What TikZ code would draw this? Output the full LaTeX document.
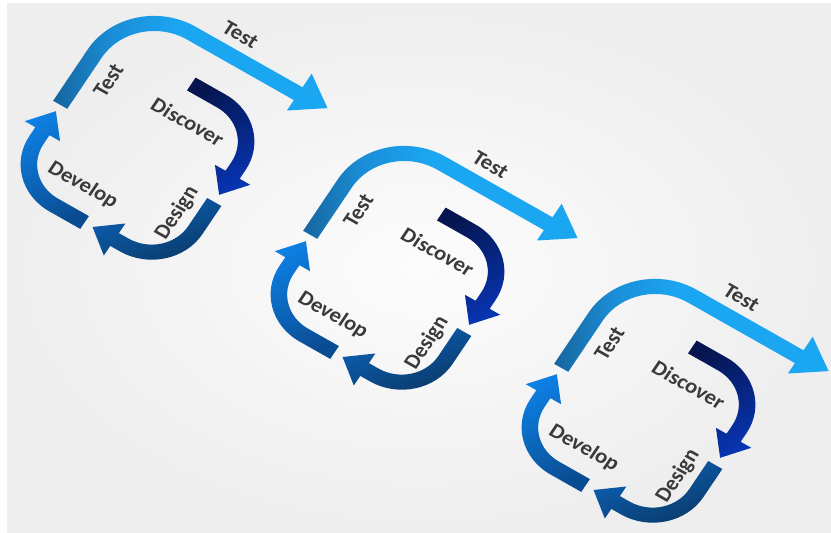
\documentclass[tikz,border=0pt]{standalone}
\usepackage{fontspec}
\setmainfont{Carlito}
\definecolor{tA}{HTML}{17659E}
\definecolor{tB}{HTML}{1A8ED8}
\definecolor{tC}{HTML}{1BA6F2}
\definecolor{dA}{HTML}{06154F}
\definecolor{dB}{HTML}{0735B3}
\definecolor{gA}{HTML}{0A3763}
\definecolor{gB}{HTML}{0C62B8}
\definecolor{vA}{HTML}{0A4C92}
\definecolor{vB}{HTML}{0D80E4}
\definecolor{txt}{HTML}{3A3A3A}
\definecolor{bgIn}{HTML}{FCFCFC}
\definecolor{bgOut}{HTML}{EEEEEE}
\pgfdeclarehorizontalshading{testsh}{100bp}{color(0bp)=(tA); color(25bp)=(tA); color(36bp)=(tB); color(48bp)=(tC); color(100bp)=(tC)}
\begin{document}
\begin{tikzpicture}[x=1pt,y=1pt,
  lbl/.style={font=\fontsize{22}{22}\selectfont\bfseries, text=txt, transform shape, inner sep=0pt}]
\useasboundingbox (0,0) rectangle (831,533);
\fill[white] (0,0) rectangle (831,533);
\shade[inner color=bgIn, outer color=bgOut] (7,0) rectangle (831,529);
\foreach \k/\cx/\cy in {1/137.5/380, 2/387.5/250, 3/638.5/117} {
\begin{scope}[cm={0.883,-0.5,0.539,0.8,(\cx,\cy)}]
  % Test
  \shade[shading=testsh] (-98,4) -- (-98,68) arc[start angle=180,end angle=90,radius=76]
     -- (99,144) -- (99,161) -- (131,138) -- (99,115) -- (99,128) -- (-22,128)
     arc[start angle=90,end angle=180,radius=60] -- (-82,4) -- cycle;
  % Discover
  \shade[top color=dA, bottom color=dB, shading angle=30] (6,98) -- (40,98)
     arc[start angle=90,end angle=0,radius=58] -- (98,29) -- (110,29) -- (90,4)
     -- (70,29) -- (82,29) -- (82,40) arc[start angle=0,end angle=90,radius=42]
     -- (6,82) -- cycle;
  % Design
  \shade[left color=gB, right color=gA, shading angle=20] (98,-5) -- (98,-40)
     arc[start angle=0,end angle=-90,radius=58] -- (29,-98) -- (29,-110) -- (4,-90)
     -- (29,-70) -- (29,-82) -- (40,-82) arc[start angle=-90,end angle=0,radius=42]
     -- (82,-5) -- cycle;
  % Develop
  \shade[top color=vB, bottom color=vA, shading angle=30] (-5,-98) -- (-40,-98)
     arc[start angle=-90,end angle=-180,radius=58] -- (-98,-29) -- (-110,-29) -- (-90,-4)
     -- (-70,-29) -- (-82,-29) -- (-82,-40) arc[start angle=180,end angle=270,radius=42]
     -- (-5,-82) -- cycle;
  \node[lbl] (testtop\k) at (19,160) {Test};
  \node[lbl, rotate=90] (testside\k) at (-64,51) {Test};
  \node[lbl] (discover\k) at (24,54) {Discover};
  \node[lbl, rotate=90] (design\k) at (65.5,-34) {Design};
  \node[lbl] (develop\k) at (-27,-57) {Develop};
\end{scope}
}
\end{tikzpicture}
\end{document}
